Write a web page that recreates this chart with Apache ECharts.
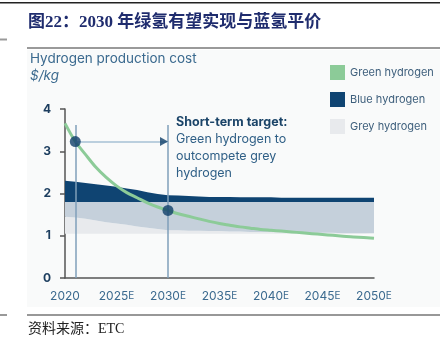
<!DOCTYPE html>
<html>
<head>
<meta charset="utf-8">
<script src="https://cdn.jsdelivr.net/npm/echarts@6/dist/echarts.min.js"></script>
<style>
  html, body { margin: 0; padding: 0; background: #ffffff; }
  #chart { width: 440px; height: 340px; }
</style>
</head>
<body>
<div id="chart"></div>
<script>
// Hydrogen production cost by year ($/kg)
const years = ['2020','2021','2022','2023','2024','2025','2026','2027','2028','2029','2030',
  '2031','2032','2033','2034','2035','2036','2037','2038','2039','2040',
  '2041','2042','2043','2044','2045','2046','2047','2048','2049','2050'];

// Green hydrogen cost curve
const greenCost = [3.66, 3.23, 2.92, 2.62, 2.38, 2.18, 2.02, 1.90, 1.78, 1.68, 1.60,
  1.52, 1.46, 1.40, 1.34, 1.29, 1.25, 1.21, 1.18, 1.15, 1.13,
  1.11, 1.09, 1.07, 1.05, 1.03, 1.01, 0.99, 0.97, 0.96, 0.94];

// Blue hydrogen range: upper edge (lower edge sits on top of the grey range)
const blueHigh = [2.30, 2.28, 2.25, 2.22, 2.19, 2.16, 2.12, 2.08, 2.03, 1.99, 1.96,
  1.95, 1.94, 1.93, 1.92, 1.92, 1.92, 1.91, 1.91, 1.91, 1.91,
  1.90, 1.90, 1.90, 1.90, 1.90, 1.90, 1.90, 1.90, 1.90, 1.90];

// Grey hydrogen range: upper edge, inner edge and floor
const greyHigh = [1.80, 1.80, 1.80, 1.80, 1.80, 1.80, 1.80, 1.80, 1.80, 1.80, 1.80,
  1.80, 1.80, 1.80, 1.80, 1.80, 1.80, 1.80, 1.80, 1.80, 1.80,
  1.80, 1.80, 1.80, 1.80, 1.80, 1.80, 1.80, 1.80, 1.80, 1.80];
const greyMid = [1.45, 1.43, 1.40, 1.36, 1.32, 1.29, 1.26, 1.22, 1.19, 1.16, 1.13,
  1.13, 1.12, 1.12, 1.11, 1.11, 1.10, 1.10, 1.09, 1.09, 1.09,
  1.08, 1.08, 1.08, 1.07, 1.07, 1.07, 1.06, 1.06, 1.06, 1.06];
const greyLow = [1.05, 1.05, 1.05, 1.05, 1.05, 1.05, 1.05, 1.05, 1.05, 1.05, 1.05,
  1.05, 1.05, 1.05, 1.05, 1.05, 1.05, 1.05, 1.05, 1.05, 1.05,
  1.05, 1.05, 1.05, 1.05, 1.05, 1.05, 1.05, 1.05, 1.05, 1.05];

const yTicks = [0, 1, 2, 3, 4];
const markedPoints = [['2021', 3.23], ['2030', 1.60]];

const legendItems = ['Green hydrogen', 'Blue hydrogen', 'Grey hydrogen'];
const noteLines = ['Green hydrogen to', 'outcompete grey', 'hydrogen'];

const C = {
  green: '#8ccb98',
  blue: '#0f4472',
  greyMid: '#c5d0db',
  greyLight: '#e8eaed',
  guide: '#7f9fba',
  arrow: '#a6c0d4',
  dot: '#0f3e69',
  text: '#3b6a8f'
};

const sans = 'Inter, "Noto Sans", sans-serif';
const serif = '"Liberation Serif", "Noto Sans CJK SC", serif';

const bandBase = greyLow;
const bandLight = greyMid.map((v, i) => +(v - greyLow[i]).toFixed(3));
const bandMid = greyHigh.map((v, i) => +(v - greyMid[i]).toFixed(3));
const bandBlue = blueHigh.map((v, i) => +(v - greyHigh[i]).toFixed(3));

function band(name, data, color) {
  return {
    name: name, type: 'line', stack: 'range', data: data,
    symbol: 'none', silent: true, lineStyle: { width: 0 },
    areaStyle: { color: color, opacity: color === 'transparent' ? 0 : 1 },
    itemStyle: { color: color }, z: 1
  };
}

const chart = echarts.init(document.getElementById('chart'), null, { renderer: 'canvas' });

chart.setOption({
  animation: false,
  backgroundColor: '#ffffff',
  grid: { left: 65, right: 66, top: 109, bottom: 62 },
  legend: {
    left: 330, top: 65, orient: 'vertical', padding: 0,
    itemWidth: 15, itemHeight: 15, itemGap: 12,
    icon: 'rect',
    textStyle: { color: '#3e5f7c', fontSize: 11, fontFamily: sans },
    data: [
      { name: legendItems[0], itemStyle: { color: C.green } },
      { name: legendItems[1], itemStyle: { color: C.blue } },
      { name: legendItems[2], itemStyle: { color: C.greyLight } }
    ],
    selectedMode: false
  },
  xAxis: {
    type: 'category', data: years, boundaryGap: false,
    axisLine: { lineStyle: { color: '#555', width: 1.5 } },
    axisTick: { show: false },
    axisLabel: {
      interval: 4, margin: 12, color: C.text,
      fontSize: 12, fontFamily: sans,
      formatter: v => v === years[0] ? v : '{n|' + v + '}{e|E}',
      rich: {
        n: { fontSize: 12, color: C.text, fontFamily: sans },
        e: { fontSize: 10, color: C.text, fontFamily: sans }
      }
    },
    splitLine: { show: false }
  },
  yAxis: {
    type: 'value', min: yTicks[0], max: yTicks[yTicks.length - 1], interval: 1,
    axisLine: { show: true, lineStyle: { color: '#555', width: 1.5 } },
    axisTick: { show: true, length: 5, lineStyle: { color: '#555', width: 1.5 } },
    axisLabel: { color: '#1c3d5e', fontSize: 12, fontWeight: 'bold', margin: 14, fontFamily: sans },
    splitLine: { show: false }
  },
  graphic: [
    { type: 'rect', shape: { x: 0, y: 2, width: 440, height: 1.5 }, style: { fill: '#222' }, z: -10 },
    { type: 'rect', shape: { x: 27, y: 50, width: 413, height: 257 }, style: { fill: '#f9fafa' }, z: -10 },
    { type: 'text', x: 28, y: 23, style: { text: '图22：2030 年绿氢有望实现与蓝氢平价', font: 'bold 17px ' + serif, fill: '#1f2c6e', textVerticalAlign: 'middle' } },
    { type: 'rect', shape: { x: 27, y: 47, width: 413, height: 2 }, style: { fill: '#9a9a9a' } },
    { type: 'rect', shape: { x: 0, y: 38.5, width: 7, height: 2 }, style: { fill: '#9a9a9a' } },
    { type: 'rect', shape: { x: 27, y: 314.5, width: 413, height: 1 }, style: { fill: '#333' } },
    { type: 'rect', shape: { x: 0, y: 314.5, width: 7, height: 1 }, style: { fill: '#333' } },
    { type: 'text', x: 28, y: 329, style: { text: '资料来源：ETC', font: '14px ' + serif, fill: '#222', textVerticalAlign: 'middle' } },
    { type: 'text', x: 30, y: 59, style: { text: 'Hydrogen production cost', font: '13.5px ' + sans, fill: C.text, textVerticalAlign: 'middle' } },
    { type: 'text', x: 30, y: 76, style: { text: '$/kg', font: 'italic 13.5px ' + sans, fill: C.text, textVerticalAlign: 'middle' } },
    { type: 'text', x: 176, y: 122, style: { text: 'Short-term target:', font: 'bold 12.5px ' + sans, fill: '#1b4468', textVerticalAlign: 'middle' } },
    { type: 'text', x: 176, y: 139, style: { text: noteLines[0], font: '12.5px ' + sans, fill: '#2f5f86', textVerticalAlign: 'middle' } },
    { type: 'text', x: 176, y: 156, style: { text: noteLines[1], font: '12.5px ' + sans, fill: '#2f5f86', textVerticalAlign: 'middle' } },
    { type: 'text', x: 176, y: 173, style: { text: noteLines[2], font: '12.5px ' + sans, fill: '#2f5f86', textVerticalAlign: 'middle' } }
  ],
  series: [
    band('base', bandBase, 'transparent'),
    band(legendItems[2], bandLight, C.greyLight),
    band('grey-inner', bandMid, C.greyMid),
    band(legendItems[1], bandBlue, C.blue),
    {
      name: 'guides', type: 'line', data: [], silent: true, z: 3,
      markLine: {
        silent: true, symbol: 'none', animation: false,
        label: { show: false },
        lineStyle: { color: C.guide, width: 1.5, type: 'solid' },
        data: [
          [{ coord: [markedPoints[0][0], 0] }, { coord: [markedPoints[0][0], 3.62] }],
          [{ coord: [markedPoints[1][0], 0] }, { coord: [markedPoints[1][0], 3.62] }],
          [{ coord: [markedPoints[0][0], markedPoints[0][1]], lineStyle: { color: C.arrow } },
           { coord: [markedPoints[1][0], markedPoints[0][1]] }]
        ]
      }
    },
    {
      name: legendItems[0], type: 'line', data: greenCost, smooth: 0.3,
      symbol: 'none', lineStyle: { color: C.green, width: 3 },
      itemStyle: { color: C.green }, z: 4
    },
    {
      name: 'target', type: 'scatter', data: markedPoints, symbolSize: 11,
      itemStyle: { color: C.dot }, z: 6
    },
    {
      // arrowhead of the short-term target pointer
      name: 'arrowhead', type: 'scatter', silent: true,
      data: [[markedPoints[1][0], markedPoints[0][1]]],
      symbol: 'triangle', symbolRotate: -90, symbolSize: [9, 8], symbolOffset: [-4, 0],
      itemStyle: { color: C.dot }, z: 6
    }
  ]
});
</script>
</body>
</html>
